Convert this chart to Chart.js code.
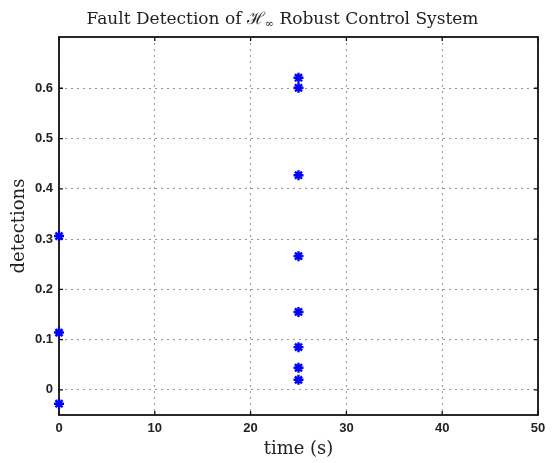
<!DOCTYPE html>
<html>
<head>
<meta charset="utf-8">
<script src="https://cdn.jsdelivr.net/npm/chart.js@4/dist/chart.umd.min.js"></script>
<style>
  html, body { margin: 0; padding: 0; background: #fff; }
  #wrap { width: 555px; height: 463px; }
</style>
</head>
<body>
<div id="wrap"><canvas id="c" width="555" height="463"></canvas></div>
<script>
// ---- data ----
const titleMain = "Fault Detection of ";
const titleSym = "\u210B";
const titleSub = "\u221E";
const titleEnd = " Robust Control System";
const xLabel = "time (s)";
const yLabel = "detections";
const xTicks = [0, 10, 20, 30, 40, 50];
const yTicks = [0, 0.1, 0.2, 0.3, 0.4, 0.5, 0.6];
const timeA = [0, 0, 0];
const detA = [0.306, 0.114, -0.0275];
const timeB = [25, 25, 25, 25, 25, 25, 25, 25];
const detB = [0.621, 0.601, 0.427, 0.266, 0.155, 0.085, 0.044, 0.020];

const points = timeA.map((t, i) => ({x: t, y: detA[i]}))
  .concat(timeB.map((t, i) => ({x: t, y: detB[i]})));

const serif = "'DejaVu Serif', 'Liberation Serif', serif";
const sans = "'Liberation Sans', Arial, sans-serif";

const boxPlugin = {
  id: 'boxTicks',
  beforeDatasetsDraw(chart) {
    const {ctx, chartArea: a, scales} = chart;
    ctx.save();
    ctx.strokeStyle = '#111';
    ctx.lineWidth = 1.3;
    ctx.beginPath();
    const tl = 4;
    xTicks.forEach(v => {
      const px = scales.x.getPixelForValue(v);
      ctx.moveTo(px, a.bottom); ctx.lineTo(px, a.bottom - tl);
      ctx.moveTo(px, a.top); ctx.lineTo(px, a.top + tl);
    });
    yTicks.forEach(v => {
      const py = scales.y.getPixelForValue(v);
      ctx.moveTo(a.left, py); ctx.lineTo(a.left + tl, py);
      ctx.moveTo(a.right, py); ctx.lineTo(a.right - tl, py);
    });
    ctx.stroke();
    ctx.lineWidth = 1.8;
    ctx.strokeRect(a.left, a.top, a.right - a.left, a.bottom - a.top);
    ctx.restore();
  },
  afterDraw(chart) {
    const {ctx} = chart;
    ctx.save();
    ctx.fillStyle = '#222';
    ctx.textBaseline = 'alphabetic';
    const f = "17px " + serif;
    const fs = "11px " + serif;
    ctx.font = f;
    const w1 = ctx.measureText(titleMain).width;
    const w2 = ctx.measureText(titleSym).width;
    const w4 = ctx.measureText(titleEnd).width;
    ctx.font = fs;
    const w3 = ctx.measureText(titleSub).width;
    const total = w1 + w2 + w3 + w4;
    let x = 282.5 - total / 2;
    const y = 24;
    ctx.font = f;
    ctx.fillText(titleMain, x, y); x += w1;
    ctx.fillText(titleSym, x, y); x += w2;
    ctx.font = fs;
    ctx.fillText(titleSub, x, y + 3); x += w3;
    ctx.font = f;
    ctx.fillText(titleEnd, x, y);
    ctx.restore();
  }
};

new Chart(document.getElementById('c'), {
  type: 'scatter',
  data: {
    datasets: [{
      data: points,
      pointStyle: 'star',
      pointRadius: 5,
      pointHoverRadius: 5,
      borderColor: '#0000ff',
      backgroundColor: '#0000ff',
      borderWidth: 2.4,
      clip: false
    }]
  },
  options: {
    responsive: false,
    animation: false,
    events: [],
    layout: { padding: { top: 37, right: 17, left: 0, bottom: 0 } },
    plugins: { legend: { display: false }, tooltip: { enabled: false }, title: { display: false } },
    scales: {
      x: {
        type: 'linear',
        min: 0, max: 50,
        afterBuildTicks: s => { s.ticks = xTicks.map(v => ({value: v})); },
        afterFit: s => { s.height = 48; },
        ticks: {
          padding: 6,
          color: '#222',
          font: { family: sans, size: 13, weight: 'bold' },
          callback: v => String(v),
          maxRotation: 0
        },
        grid: { color: '#9a9a9a', lineWidth: 1, drawTicks: false },
        border: { display: false, dash: [2, 4] },
        title: {
          display: true, text: xLabel, color: '#222',
          font: { family: serif, size: 18 },
          padding: { top: 0, bottom: 3 }
        }
      },
      y: {
        type: 'linear',
        min: -0.05, max: 0.702,
        afterBuildTicks: s => { s.ticks = yTicks.map(v => ({value: v})); },
        afterFit: s => { s.width = 59; },
        ticks: {
          padding: 6,
          color: '#222',
          font: { family: sans, size: 13, weight: 'bold' },
          callback: v => String(Math.round(v * 10) / 10)
        },
        grid: { color: '#9a9a9a', lineWidth: 1, drawTicks: false },
        border: { display: false, dash: [2, 4] },
        title: {
          display: true, text: yLabel, color: '#222',
          font: { family: serif, size: 18 },
          padding: { top: 9, bottom: 0 }
        }
      }
    }
  },
  plugins: [boxPlugin]
});
</script>
</body>
</html>
